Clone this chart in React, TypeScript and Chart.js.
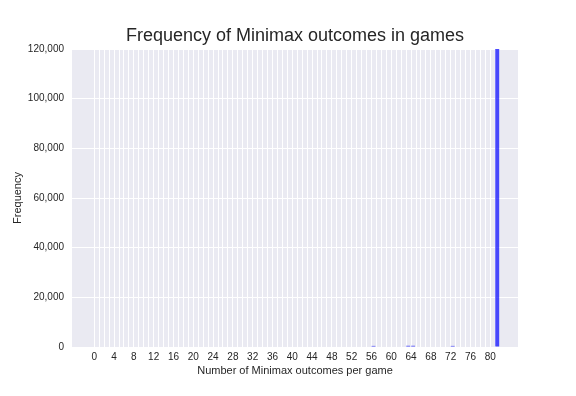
import React, { useEffect, useRef } from "react";
import { Chart, registerables } from "chart.js";

Chart.register(...registerables);

// Histogram bins (number of Minimax outcomes per game) that have visible counts
const outcomes = [56, 63, 64, 72, 81];
const frequencies = [450, 500, 500, 450, 135000];
const binWidth = 0.8; // rwidth of histogram bars, bar starts at bin left edge

const xTickValues = Array.from({ length: 82 }, (_, i) => i); // grid at every integer 0..81
const xLabelStep = 4;
const yTicks = [0, 20000, 40000, 60000, 80000, 100000, 120000];

const TITLE = "Frequency of Minimax outcomes in games";
const X_TITLE = "Number of Minimax outcomes per game";
const Y_TITLE = "Frequency";

const FONT = "'Liberation Sans', Arial, sans-serif";
const TEXT = "#262626";
const BG = "#EAEAF2";

const bgPlugin = {
  id: "plotBg",
  beforeDraw(chart: any) {
    const { ctx, chartArea } = chart;
    ctx.save();
    ctx.fillStyle = BG;
    ctx.fillRect(chartArea.left, chartArea.top, chartArea.right - chartArea.left, chartArea.bottom - chartArea.top);
    ctx.restore();
  },
};

export default function App() {
  const ref = useRef<HTMLCanvasElement | null>(null);
  useEffect(() => {
    if (!ref.current) return;
    const chart = new Chart(ref.current, {
      type: "bar",
      data: {
        datasets: [
          {
            data: outcomes.map((o, i) => ({ x: o + binWidth / 2, y: frequencies[i] })),
            backgroundColor: "rgba(0,0,255,0.7)",
            borderWidth: 0,
            categoryPercentage: binWidth,
            barPercentage: 1,
          },
        ],
      },
      options: {
        animation: false,
        responsive: false,
        layout: { padding: { top: 0, right: 58, bottom: 0, left: 0 } },
        plugins: {
          legend: { display: false },
          tooltip: { enabled: false },
          title: {
            display: true,
            fullSize: false,
            text: TITLE,
            color: TEXT,
            font: { family: FONT, size: 18, weight: "normal" },
            padding: { top: 25, bottom: 2.4 },
          },
        },
        scales: {
          x: {
            type: "linear",
            min: -4.5,
            max: 85.6,
            offset: false,
            afterBuildTicks: (scale: any) => {
              scale.ticks = xTickValues.map((v) => ({ value: v }));
            },
            afterFit: (scale: any) => {
              scale.height = 49;
            },
            grid: { color: "#ffffff", lineWidth: 1, drawTicks: false, offset: false },
            border: { display: false },
            ticks: {
              autoSkip: false,
              maxRotation: 0,
              padding: 4,
              color: TEXT,
              font: { family: FONT, size: 10 },
              callback: (v: any) => (Number(v) % xLabelStep === 0 ? String(v) : ""),
            },
            title: {
              display: true,
              text: X_TITLE,
              color: TEXT,
              font: { family: FONT, size: 11 },
              padding: { top: 0, bottom: 18.9 },
            },
          },
          y: {
            min: 0,
            max: 120000,
            afterBuildTicks: (scale: any) => {
              scale.ticks = yTicks.map((v) => ({ value: v }));
            },
            afterFit: (scale: any) => {
              scale.width = 72;
            },
            grid: { color: "#ffffff", lineWidth: 1, drawTicks: false },
            border: { display: false },
            ticks: {
              padding: 8,
              color: TEXT,
              font: { family: FONT, size: 10 },
              callback: (v: any) => Number(v).toLocaleString("en-US"),
            },
            title: {
              display: true,
              text: Y_TITLE,
              color: TEXT,
              font: { family: FONT, size: 11 },
              padding: { top: 11.5, bottom: 0 },
            },
          },
        },
      },
      plugins: [bgPlugin],
    } as any);
    return () => chart.destroy();
  }, []);
  return (
    <div style={{ position: "absolute", left: 0, top: 0, width: 576, height: 396, background: "#ffffff" }}>
      <canvas ref={ref} width={576} height={396} style={{ display: "block" }} />
    </div>
  );
}
